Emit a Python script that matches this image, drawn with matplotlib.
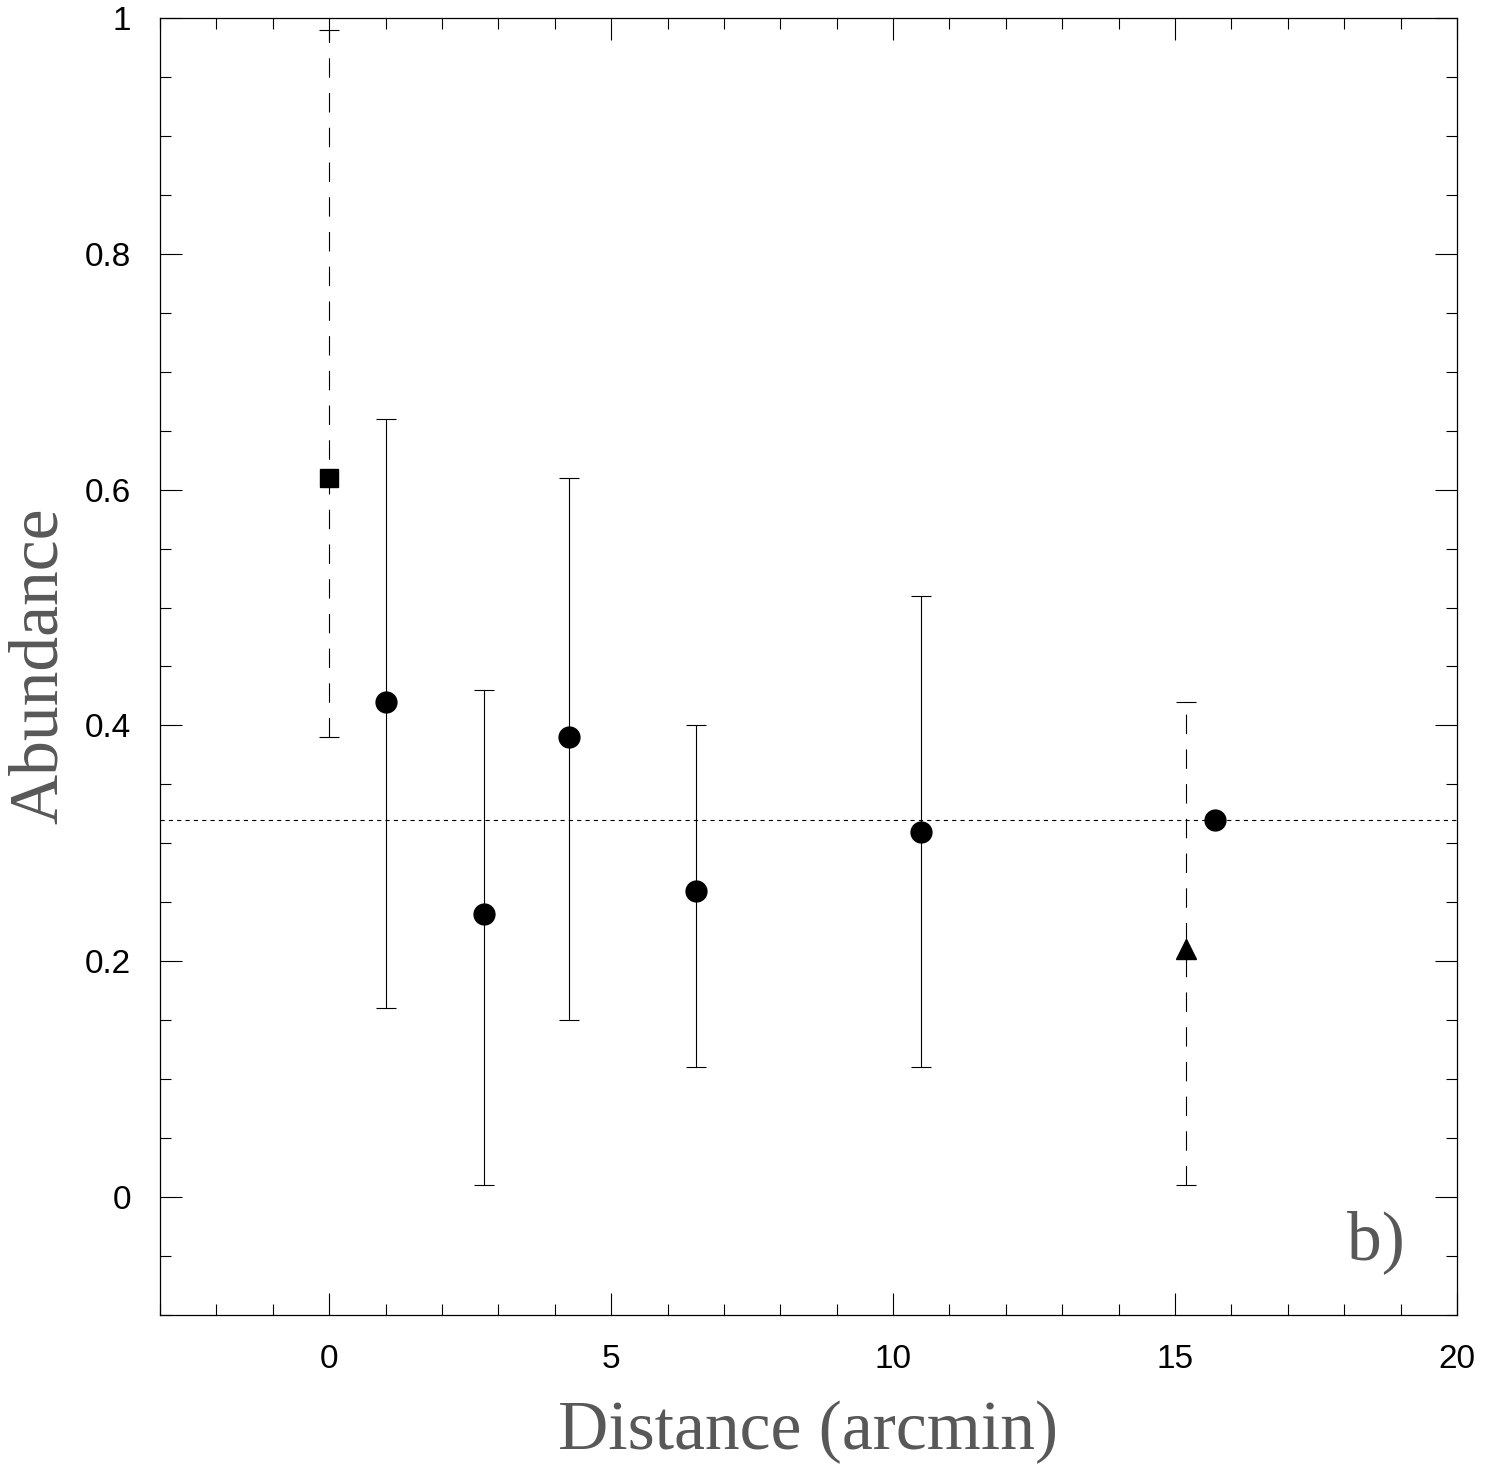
import matplotlib
matplotlib.use('Agg')
import matplotlib.pyplot as plt
from matplotlib.ticker import MultipleLocator, FixedLocator

# circles: radial profile with solid error bars
dist = [1.0, 2.75, 4.25, 6.5, 10.5]
abund = [0.42, 0.24, 0.39, 0.26, 0.31]
err_lo = [0.16, 0.01, 0.15, 0.11, 0.11]
err_hi = [0.66, 0.43, 0.61, 0.40, 0.51]

# single circle without error bar
extra_x = [15.7]
extra_y = [0.32]

# square (centre) with dashed error bar
sq_x = [0.0]
sq_y = [0.61]
sq_lo = [0.39]
sq_hi = [0.99]

# triangle with dashed error bar
tri_x = [15.2]
tri_y = [0.21]
tri_lo = [0.01]
tri_hi = [0.42]

mean_abund = 0.32

plt.rcParams['lines.scale_dashes'] = False
plt.rcParams['font.family'] = ['Liberation Sans', 'DejaVu Sans']

fig = plt.figure(figsize=(14.86, 14.64), dpi=100)
W, H = 1486, 1464
ax = fig.add_axes([160 / W, 1 - 1315 / H, 1297 / W, 1297 / H])


def bars(x, y, lo, hi, ls):
    yerr = [[v - l for v, l in zip(y, lo)], [h - v for v, h in zip(y, hi)]]
    eb = ax.errorbar(x, y, yerr=yerr, fmt='none', ecolor='black', elinewidth=0.8,
                     capsize=7.5, capthick=0.8)
    for lc in eb[2]:
        lc.set_linestyle(ls)


bars(dist, abund, err_lo, err_hi, '-')
bars(sq_x, sq_y, sq_lo, sq_hi, (0, (14, 11)))
bars(tri_x, tri_y, tri_lo, tri_hi, (0, (14, 11)))

ax.plot(dist, abund, 'o', color='black', markersize=15, zorder=5)
ax.plot(extra_x, extra_y, 'o', color='black', markersize=15, zorder=5)
ax.plot(sq_x, sq_y, 's', color='black', markersize=12.5, zorder=5)
ax.plot(tri_x, tri_y, '^', color='black', markersize=14, zorder=5)

ax.axhline(mean_abund, color='black', linewidth=0.8, linestyle=(0, (3, 3)))

ax.set_xlim(-3, 20)
ax.set_ylim(-0.1, 1.0)
ax.xaxis.set_major_locator(MultipleLocator(5))
ax.xaxis.set_minor_locator(MultipleLocator(1))
ax.yaxis.set_major_locator(FixedLocator([0, 0.2, 0.4, 0.6, 0.8, 1.0]))
ax.yaxis.set_minor_locator(MultipleLocator(0.05))
ax.set_yticklabels(['0', '0.2', '0.4', '0.6', '0.8', '1'])

ax.tick_params(which='both', direction='in', top=True, right=True, width=0.8, colors='black')
ax.tick_params(which='major', length=16, labelsize=24)
ax.tick_params(which='minor', length=8)
ax.tick_params(axis='x', which='major', pad=21)
ax.tick_params(axis='y', which='major', pad=21)
for s in ax.spines.values():
    s.set_linewidth(0.9)

# thin serif lettering for the labels
lab = dict(family='Liberation Serif', color='#585858', fontsize=50)
fig.text(808 / W, 1 - 1432 / H, 'Distance (arcmin)', ha='center', va='center', **lab)
fig.text(40 / W, 1 - 666 / H, 'Abundance', ha='center', va='center', rotation=90, **lab)
fig.text(1376 / W, 1 - 1242 / H, 'b)', ha='center', va='center', **lab)

fig.savefig('out.png', dpi=100)
